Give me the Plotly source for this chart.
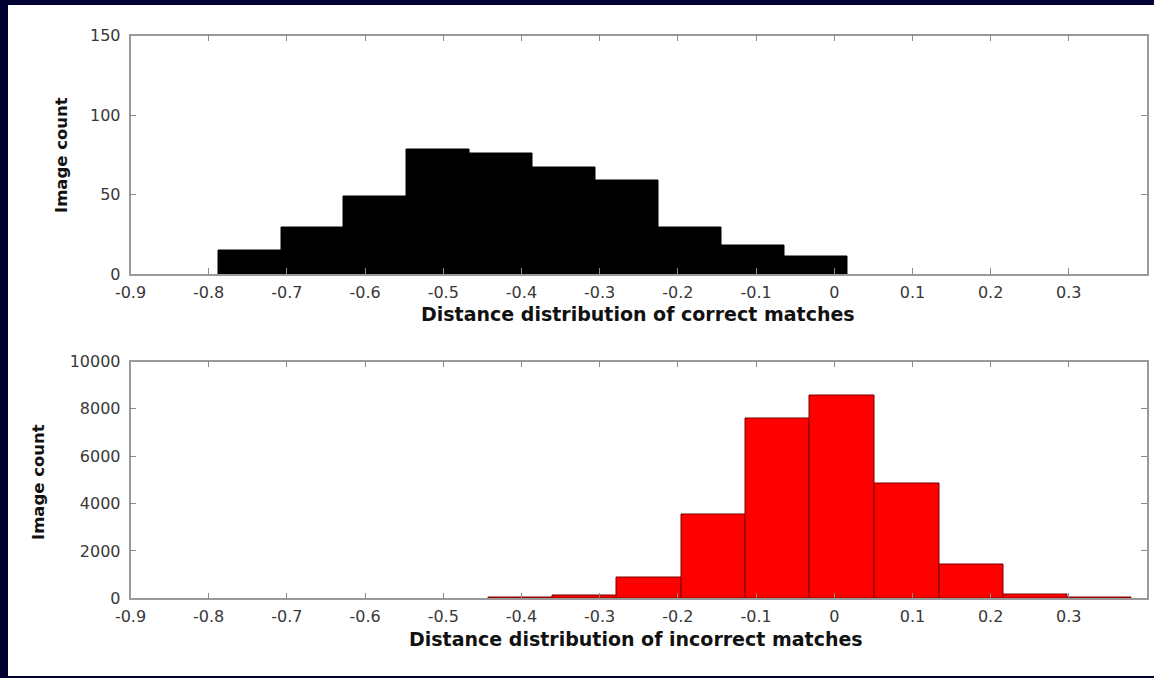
import plotly.graph_objects as go

# ---------------- data ----------------
correct_edges = [-0.788, -0.7075, -0.627, -0.5464, -0.4659, -0.3853,
                 -0.3048, -0.2242, -0.1437, -0.0631, 0.0174]
correct_counts = [15, 29, 49, 78, 76, 67, 59, 29, 18, 11]

incorrect_edges = [-0.442, -0.360, -0.278, -0.195, -0.113, -0.031,
                   0.051, 0.134, 0.216, 0.298, 0.380]
incorrect_counts = [25, 110, 870, 3520, 7600, 8560, 4830, 1435, 140, 25]

x_tickvals = [-0.9, -0.8, -0.7, -0.6, -0.5, -0.4, -0.3, -0.2, -0.1, 0, 0.1, 0.2, 0.3]
x_ticktext = ["-0.9", "-0.8", "-0.7", "-0.6", "-0.5", "-0.4", "-0.3", "-0.2",
              "-0.1", "0", "0.1", "0.2", "0.3"]
top_ytickvals = [0, 50, 100, 150]
top_yticktext = ["0", "50", "100", "150"]
bot_ytickvals = [0, 2000, 4000, 6000, 8000, 10000]
bot_yticktext = ["0", "2000", "4000", "6000", "8000", "10000"]

title_top = "Distance distribution of correct matches"
title_bot = "Distance distribution of incorrect matches"
y_title = "Image count"

# ---------------- figure ----------------
W, H = 1154, 678


def px_x(p):
    return p / W


def px_y(p):
    return 1 - p / H


def centers(edges):
    return [(a + b) / 2 for a, b in zip(edges[:-1], edges[1:])]


def widths(edges):
    return [b - a for a, b in zip(edges[:-1], edges[1:])]


fig = go.Figure()
fig.add_trace(go.Bar(
    x=centers(correct_edges), y=correct_counts, width=widths(correct_edges),
    marker=dict(color="#000000", line=dict(color="#000000", width=1)),
    xaxis="x", yaxis="y", showlegend=False, hoverinfo="x+y"))
fig.add_trace(go.Bar(
    x=centers(incorrect_edges), y=incorrect_counts, width=widths(incorrect_edges),
    marker=dict(color="#ff0000", line=dict(color="#7a0000", width=1)),
    xaxis="x2", yaxis="y2", showlegend=False, hoverinfo="x+y"))

tick_font = dict(family="DejaVu Sans", size=16, color="#383838")
axis_common = dict(
    showline=True, linecolor="#9a9a9a", linewidth=1.5, mirror="ticks",
    ticks="inside", ticklen=6, tickwidth=1, tickcolor="#8a8a8a",
    showgrid=False, zeroline=False, tickfont=tick_font, automargin=False,
    fixedrange=True)

xdom = [px_x(130.5), px_x(1147)]
fig.update_layout(
    width=W, height=H,
    margin=dict(l=0, r=0, t=0, b=0),
    paper_bgcolor="#000033", plot_bgcolor="#ffffff",
    xaxis=dict(domain=xdom, range=[-0.9, 0.4], anchor="y",
               tickvals=x_tickvals, ticktext=x_ticktext, ticklabelstandoff=3,
               **axis_common),
    yaxis=dict(domain=[px_y(274), px_y(35.5)], range=[0, 150], anchor="x",
               tickvals=top_ytickvals, ticktext=top_yticktext, ticklabelstandoff=5,
               **axis_common),
    xaxis2=dict(domain=xdom, range=[-0.9, 0.4], anchor="y2",
                tickvals=x_tickvals, ticktext=x_ticktext, ticklabelstandoff=3,
                **axis_common),
    yaxis2=dict(domain=[px_y(598.3), px_y(361.5)], range=[0, 10000], anchor="x2",
                tickvals=bot_ytickvals, ticktext=bot_yticktext, ticklabelstandoff=5,
                **axis_common),
    shapes=[dict(type="rect", xref="paper", yref="paper",
                 x0=px_x(8), x1=1, y0=px_y(676), y1=px_y(5),
                 fillcolor="#ffffff", line=dict(width=0), layer="below")],
    annotations=[
        dict(text=title_top, xref="paper", yref="paper", x=px_x(638), y=px_y(314),
             xanchor="center", yanchor="middle", showarrow=False,
             font=dict(family="DejaVu Sans", size=19, color="#111111", weight="bold")),
        dict(text=title_bot, xref="paper", yref="paper", x=px_x(636), y=px_y(639),
             xanchor="center", yanchor="middle", showarrow=False,
             font=dict(family="DejaVu Sans", size=19, color="#111111", weight="bold")),
        dict(text=y_title, xref="paper", yref="paper", x=px_x(62), y=px_y(155),
             xanchor="center", yanchor="middle", showarrow=False, textangle=-90,
             font=dict(family="DejaVu Sans", size=16.5, color="#111111", weight="bold")),
        dict(text=y_title, xref="paper", yref="paper", x=px_x(38), y=px_y(482),
             xanchor="center", yanchor="middle", showarrow=False, textangle=-90,
             font=dict(family="DejaVu Sans", size=16.5, color="#111111", weight="bold")),
    ],
    bargap=0,
)

page_fix = ("document.body.style.margin='0';document.body.style.padding='0';"
            "document.body.style.overflow='hidden';"
            "document.documentElement.style.background='#000033';")
fig.write_html("out.html", config={"displayModeBar": False}, post_script=page_fix)
